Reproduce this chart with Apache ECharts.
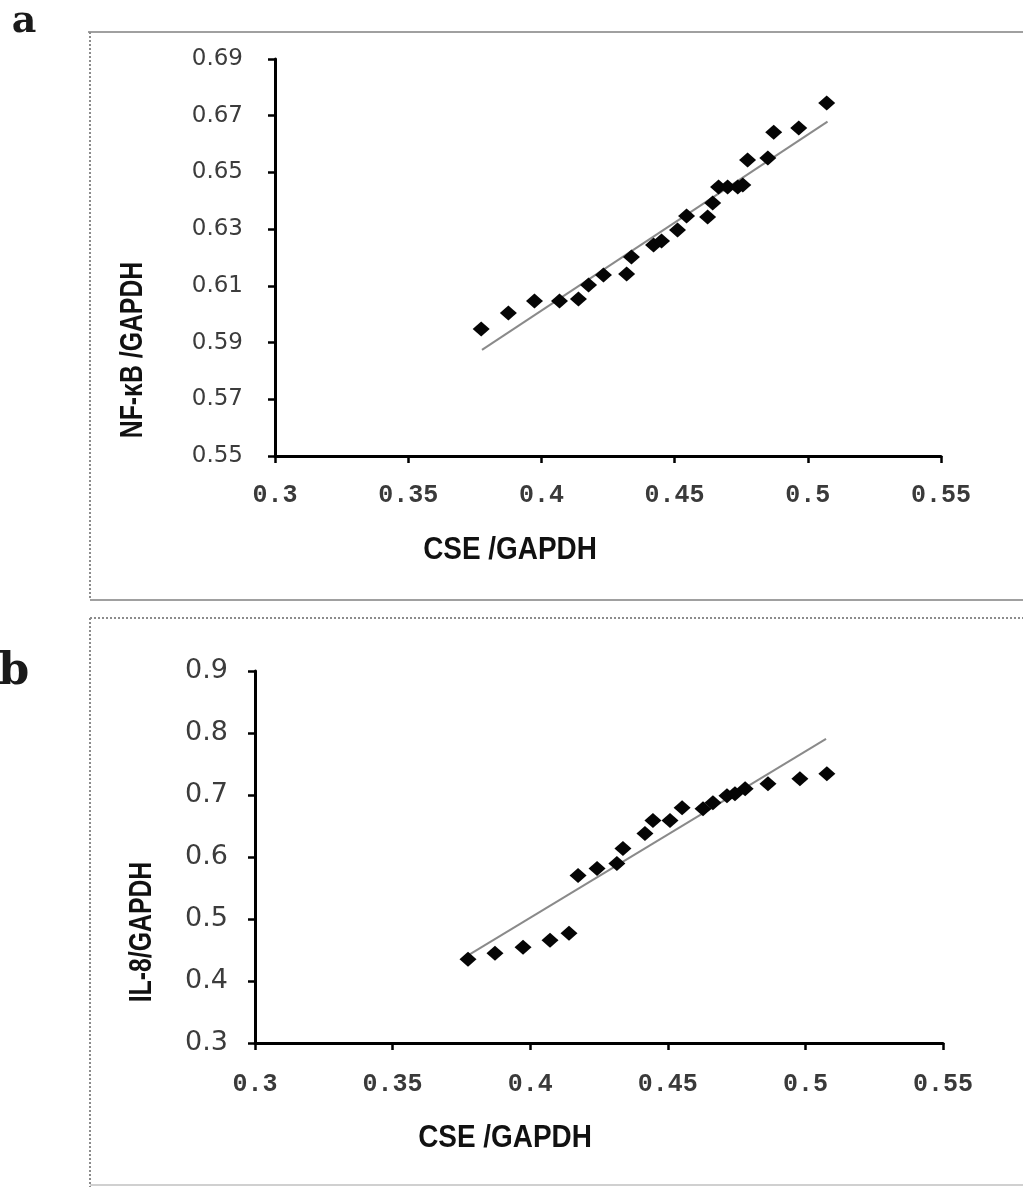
<!DOCTYPE html>
<html>
<head>
<meta charset="utf-8">
<script src="https://cdn.jsdelivr.net/npm/echarts@6/dist/echarts.min.js"></script>
<style>
  html, body { margin: 0; padding: 0; background: #ffffff; }
  #chart { width: 1023px; height: 1187px; }
</style>
</head>
<body>
<div id="chart"></div>
<script>
// Panel a: CSE/GAPDH vs NF-κB/GAPDH
const cseA = [0.3774, 0.3876, 0.3974, 0.4068, 0.4139, 0.4177, 0.4233, 0.4320, 0.4338, 0.4421, 0.4451, 0.4511,
              0.4545, 0.4624, 0.4643, 0.4665, 0.4699, 0.4737, 0.4756, 0.4774, 0.4850, 0.4872, 0.4966, 0.5071];
const nfkbA = [0.5948, 0.6004, 0.6047, 0.6047, 0.6054, 0.6103, 0.6138, 0.6142, 0.6202, 0.6244, 0.6258, 0.6297,
               0.6346, 0.6343, 0.6392, 0.6449, 0.6449, 0.6449, 0.6456, 0.6544, 0.6551, 0.6642, 0.6657, 0.6745];
const trendCseA = [0.3777, 0.5074];
const trendNfkbA = [0.5874, 0.6679];

// Panel b: CSE/GAPDH vs IL-8/GAPDH
const cseB = [0.3774, 0.3872, 0.3974, 0.4072, 0.4141, 0.4174, 0.4243, 0.4315, 0.4337, 0.4417, 0.4446,
              0.4508, 0.4552, 0.4628, 0.4664, 0.4715, 0.4744, 0.4781, 0.4864, 0.4980, 0.5078];
const il8B = [0.4351, 0.4448, 0.4544, 0.4657, 0.4769, 0.5702, 0.5815, 0.5895, 0.6137, 0.6378, 0.6587,
              0.6587, 0.6796, 0.6780, 0.6876, 0.6989, 0.7021, 0.7102, 0.7182, 0.7263, 0.7343];
const trendCseB = [0.3774, 0.5075];
const trendIl8B = [0.4415, 0.7906];

// Axis ticks
const xTicks = [0.3, 0.35, 0.4, 0.45, 0.5, 0.55];
const yTicksA = [0.55, 0.57, 0.59, 0.61, 0.63, 0.65, 0.67, 0.69];
const yTicksB = [0.3, 0.4, 0.5, 0.6, 0.7, 0.8, 0.9];

const pairs = (xs, ys) => xs.map((x, i) => [x, ys[i]]);

// condensed bold look for the axis titles: bold sans squeezed horizontally
const titleFont = 'bold 31px "Liberation Sans Narrow", "Liberation Sans", Arial, sans-serif';
const lineCol = '#000';

function valueAxis(gridIndex, ticks, step, labelOpts) {
  return {
    type: 'value',
    gridIndex: gridIndex,
    min: ticks[0],
    max: ticks[ticks.length - 1],
    interval: step,
    splitLine: { show: false },
    axisLine: { show: true, onZero: false, lineStyle: { color: lineCol, width: 3 } },
    axisTick: { show: true, inside: false, length: 7, lineStyle: { color: lineCol, width: 2.5 } },
    axisLabel: Object.assign({ color: '#3c3c3c' }, labelOpts)
  };
}

const xLabelStyle = {
  fontFamily: '"Liberation Mono", "DejaVu Sans Mono", monospace',
  fontSize: 25,
  fontWeight: 'bold',
  color: '#3a3a3a',
  formatter: v => String(Number(Number(v).toFixed(2)))
};

const chart = echarts.init(document.getElementById('chart'), null, { renderer: 'canvas' });

function title(text, x, y, vertical, squeeze) {
  return {
    type: 'text', x: x, y: y,
    rotation: vertical ? Math.PI / 2 : 0,
    scaleX: squeeze,
    style: { text: text, font: titleFont, fill: '#111', textAlign: 'center', textVerticalAlign: 'middle' }
  };
}

const option = {
  animation: false,
  backgroundColor: '#ffffff',
  grid: [
    { left: 275, top: 59, width: 666, height: 397 },
    { left: 255, top: 671, width: 688, height: 372 }
  ],
  xAxis: [
    valueAxis(0, xTicks, 0.05, Object.assign({ margin: 27 }, xLabelStyle)),
    valueAxis(1, xTicks, 0.05, Object.assign({ margin: 29 }, xLabelStyle))
  ],
  yAxis: [
    valueAxis(0, yTicksA, 0.02, {
      margin: 32, fontFamily: '"DejaVu Sans", Verdana, sans-serif', fontSize: 23,
      formatter: v => Number(v).toFixed(2)
    }),
    valueAxis(1, yTicksB, 0.1, {
      margin: 27, fontFamily: '"DejaVu Sans", Verdana, sans-serif', fontSize: 27,
      formatter: v => Number(v).toFixed(1)
    })
  ],
  series: [
    {
      type: 'line', xAxisIndex: 0, yAxisIndex: 0,
      data: pairs(trendCseA, trendNfkbA),
      showSymbol: false, symbol: 'none',
      lineStyle: { color: '#8a8a8a', width: 2 },
      z: 1
    },
    {
      type: 'scatter', xAxisIndex: 0, yAxisIndex: 0,
      data: pairs(cseA, nfkbA),
      symbol: 'diamond', symbolSize: [17, 15],
      itemStyle: { color: '#050505', opacity: 1 },
      z: 2
    },
    {
      type: 'line', xAxisIndex: 1, yAxisIndex: 1,
      data: pairs(trendCseB, trendIl8B),
      showSymbol: false, symbol: 'none',
      lineStyle: { color: '#8a8a8a', width: 2 },
      z: 1
    },
    {
      type: 'scatter', xAxisIndex: 1, yAxisIndex: 1,
      data: pairs(cseB, il8B),
      symbol: 'diamond', symbolSize: [17, 15],
      itemStyle: { color: '#050505', opacity: 1 },
      z: 2
    }
  ],
  graphic: [
    // panel frames
    { type: 'line', shape: { x1: 88, y1: 32, x2: 1023, y2: 32 }, style: { stroke: '#a0a0a0', lineWidth: 2 } },
    { type: 'line', shape: { x1: 90, y1: 32, x2: 90, y2: 599 }, style: { stroke: '#8c8c8c', lineWidth: 2, lineDash: [2, 2] } },
    { type: 'line', shape: { x1: 90, y1: 600, x2: 1023, y2: 600 }, style: { stroke: '#a0a0a0', lineWidth: 2 } },
    { type: 'line', shape: { x1: 90, y1: 618, x2: 1023, y2: 618 }, style: { stroke: '#8c8c8c', lineWidth: 2, lineDash: [2, 2] } },
    { type: 'line', shape: { x1: 90, y1: 618, x2: 90, y2: 1187 }, style: { stroke: '#8c8c8c', lineWidth: 2, lineDash: [2, 2] } },
    { type: 'line', shape: { x1: 90, y1: 1185, x2: 1023, y2: 1185 }, style: { stroke: '#d0d0d0', lineWidth: 2 } },
    // panel letters
    { type: 'text', x: 24, y: 22, style: { text: 'a', font: 'bold 38px "DejaVu Serif", serif', fill: '#1a1a1a', textAlign: 'center', textVerticalAlign: 'middle' } },
    { type: 'text', x: 14, y: 673, style: { text: 'b', font: 'bold 44px "DejaVu Serif", serif', fill: '#1a1a1a', textAlign: 'center', textVerticalAlign: 'middle' } },
    // axis titles
    title('NF-κB /GAPDH', 133, 350, true, 0.8),
    title('CSE /GAPDH', 510, 550, false, 0.9),
    title('IL-8/GAPDH', 142, 932, true, 0.8),
    title('CSE /GAPDH', 505, 1138, false, 0.9)
  ]
};

chart.setOption(option);
</script>
</body>
</html>
